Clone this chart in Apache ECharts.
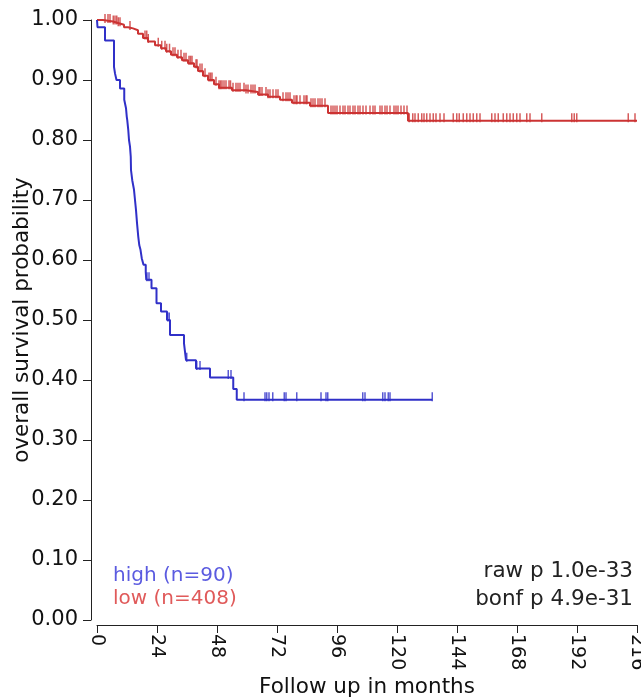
<!DOCTYPE html>
<html><head><meta charset="utf-8">
<script src="https://cdn.jsdelivr.net/npm/echarts@6/dist/echarts.min.js"></script>
<style>html,body{margin:0;padding:0;background:#fff}#c{width:641px;height:700px}</style>
</head><body><div id="c"></div>
<script>
// ---- data ----
const xTickStep = 24, xMax = 216;
const yTickStep = 0.1, yMax = 1;

const highTimes = [0, 0.2, 3.2, 6.8, 7.2, 7.8, 9.2, 10.9, 11.6, 11.9, 12.1, 12.5, 12.8, 13.2, 13.5, 13.6, 14.1, 14.8, 15.2, 15.6, 16.0, 16.5, 16.9, 17.4, 17.9, 18.6, 19.5, 19.7, 21.8, 23.8, 25.6, 28.0, 29.2, 34.8, 35.6, 39.6, 45.2, 54.5, 55.9, 134.1];
const highSurv  = [1.000, 0.988, 0.966, 0.922, 0.911, 0.900, 0.886, 0.867, 0.853, 0.839, 0.833, 0.817, 0.800, 0.789, 0.772, 0.750, 0.733, 0.717, 0.700, 0.683, 0.662, 0.639, 0.625, 0.617, 0.603, 0.592, 0.580, 0.567, 0.553, 0.528, 0.514, 0.500, 0.475, 0.461, 0.433, 0.419, 0.404, 0.385, 0.367, 0.367];
const highCensor = [20.0, 20.8, 28.3, 28.9, 35.9, 39.9, 41.2, 52.5, 53.6, 58.8, 67.2, 67.9, 68.8, 70.3, 74.9, 75.6, 79.9, 89.6, 91.6, 92.3, 106.3, 107.2, 114.3, 115.2, 116.5, 117.2, 134.1];

const lowTimes = [0, 2.4, 6.4, 8.4, 10.8, 12.4, 14.4, 16.4, 18.4, 20.4, 23.2, 25.6, 27.6, 29.6, 32.0, 34.0, 36.4, 38.8, 40.4, 42.4, 44.4, 46.8, 48.8, 54.0, 59.6, 64.4, 68.4, 73.2, 78.0, 85.2, 92.4, 124.4, 216];
const lowSurv  = [1.000, 0.9975, 0.995, 0.992, 0.988, 0.986, 0.983, 0.977, 0.970, 0.964, 0.958, 0.953, 0.948, 0.942, 0.938, 0.933, 0.928, 0.922, 0.915, 0.907, 0.900, 0.893, 0.887, 0.883, 0.880, 0.876, 0.872, 0.867, 0.862, 0.857, 0.845, 0.832, 0.832];
const lowCensor = [3.2, 4.4, 5.2, 6.5, 7.2, 7.9, 8.5, 9.2, 13.2, 19.2, 19.9, 20.5, 24.5, 25.9, 27.2, 27.9,
  29.0, 30.4, 31.2, 32.4, 33.6, 34.8, 35.6, 36.8, 37.4, 38.0, 39.6, 40.0, 41.2, 42.0, 43.2, 44.8, 45.4, 46.0, 47.6, 48.8, 49.4, 50.0, 50.8, 51.6, 52.8, 53.4, 54.4, 55.6, 56.4, 57.2, 58.8, 59.6, 60.4, 61.6, 62.4, 63.2, 64.8, 65.2, 66.0, 67.6, 68.4, 69.2, 70.4, 71.6, 72.4, 74.4, 75.6, 76.4, 77.2, 78.8, 79.6, 80.0, 81.2, 82.8, 83.6, 84.0, 85.6, 86.4, 87.2, 88.4, 89.2, 90.0, 91.2,
  93.6, 94.4, 95.2, 96.0, 97.2, 98.4, 99.2, 100.4, 101.2, 102.4, 103.2, 104.4, 105.2, 106.4, 107.6, 109.2, 110.4, 111.2, 113.2, 114.0, 115.2, 116.0, 117.2, 118.8, 119.6, 120.4, 121.6, 122.8, 124.0,
  124.9, 126.3, 127.2, 128.5, 129.9, 130.8, 131.9, 133.2, 134.5, 135.6, 137.2, 138.8, 142.5, 143.9, 144.9, 146.5, 147.9, 149.2, 150.5, 151.9, 153.2, 157.9, 159.2, 160.5, 162.5, 163.9, 165.2, 166.5, 167.9, 169.2, 171.9, 173.2, 177.9, 189.9, 190.9, 191.9, 212.5, 215.2];

const legendLabels = ['high (n=90)', 'low (n=408)'];
const pLabels = ['raw p 1.0e-33', 'bonf p 4.9e-31'];
const xName = 'Follow up in months';
const yName = 'overall survival probability';

// ---- build ----
function pairs(t, s) { return t.map((v, i) => [v, s[i]]); }
function survAt(t, times, surv) { let v = surv[0]; for (let i = 0; i < times.length; i++) { if (times[i] <= t) v = surv[i]; } return v; }
function censorPts(c, times, surv) { return c.map(t => [t, survAt(t, times, surv)]); }

const BLUE = '#3030c8', RED = '#cc3333';
const FONT = '"DejaVu Sans", Verdana, sans-serif';
const AX = '#222';

const hiddenX = (gi) => ({type: 'value', gridIndex: gi, min: 0, max: xMax, interval: xTickStep, show: false});
const hiddenY = (gi) => ({type: 'value', gridIndex: gi, min: 0, max: yMax, interval: yTickStep, show: false});
const gridBase = {containLabel: false, outerBoundsMode: 'none'};

const chart = echarts.init(document.getElementById('c'), null, {renderer: 'canvas'});
chart.setOption({
  animation: false,
  backgroundColor: '#fff',
  grid: [
    Object.assign({left: 97, right: 4, top: 20, bottom: 80}, gridBase),   // data
    Object.assign({left: 91, right: 10, top: 20, bottom: 80}, gridBase),  // y axis display
    Object.assign({left: 97, right: 4, top: 25, bottom: 75}, gridBase)    // x axis display
  ],
  xAxis: [
    hiddenX(0),
    hiddenX(1),
    {
      type: 'value', gridIndex: 2, min: 0, max: xMax, interval: xTickStep,
      splitLine: {show: false},
      axisLine: {show: true, lineStyle: {color: AX, width: 1}},
      axisTick: {show: true, length: 8, lineStyle: {color: AX}},
      axisLabel: {rotate: -90, margin: 9, color: '#111', fontSize: 19, fontFamily: FONT, hideOverlap: false},
      name: xName, nameLocation: 'middle', nameGap: 51, nameMoveOverlap: false,
      nameTextStyle: {color: '#111', fontSize: 21.5, fontFamily: FONT}
    }
  ],
  yAxis: [
    hiddenY(0),
    {
      type: 'value', gridIndex: 1, min: 0, max: yMax, interval: yTickStep,
      splitLine: {show: false},
      axisLine: {show: true, lineStyle: {color: AX, width: 1}},
      axisTick: {show: true, length: 8, lineStyle: {color: AX}},
      axisLabel: {margin: 13, color: '#111', fontSize: 21, fontFamily: FONT, formatter: v => v.toFixed(2)},
      name: yName, nameLocation: 'middle', nameGap: 58, nameRotate: 90, nameMoveOverlap: false,
      nameTextStyle: {color: '#111', fontSize: 21.5, fontFamily: FONT}
    },
    hiddenY(2)
  ],
  series: [
    {type: 'line', xAxisIndex: 0, yAxisIndex: 0, step: 'end', data: pairs(lowTimes, lowSurv), showSymbol: false, lineStyle: {color: RED, width: 2}, z: 2},
    {type: 'scatter', xAxisIndex: 0, yAxisIndex: 0, data: censorPts(lowCensor, lowTimes, lowSurv), symbol: 'rect', symbolSize: [1.5, 9], symbolOffset: [0, -3], itemStyle: {color: RED}, z: 2},
    {type: 'line', xAxisIndex: 0, yAxisIndex: 0, step: 'end', data: pairs(highTimes, highSurv), showSymbol: false, lineStyle: {color: BLUE, width: 2}, z: 3},
    {type: 'scatter', xAxisIndex: 0, yAxisIndex: 0, data: censorPts(highCensor, highTimes, highSurv), symbol: 'rect', symbolSize: [1.5, 9], symbolOffset: [0, -3], itemStyle: {color: BLUE}, z: 3}
  ],
  graphic: [
    {type: 'text', left: 113, top: 566, style: {text: legendLabels[0], fill: '#5b5be0', font: '20px ' + FONT}},
    {type: 'text', left: 113, top: 589, style: {text: legendLabels[1], fill: '#e05a5a', font: '20px ' + FONT}},
    {type: 'text', right: 8, top: 560, style: {text: pLabels[0], fill: '#222', font: '21.5px ' + FONT, textAlign: 'right'}},
    {type: 'text', right: 8, top: 588, style: {text: pLabels[1], fill: '#222', font: '21.5px ' + FONT, textAlign: 'right'}}
  ]
});
</script>
</body></html>
